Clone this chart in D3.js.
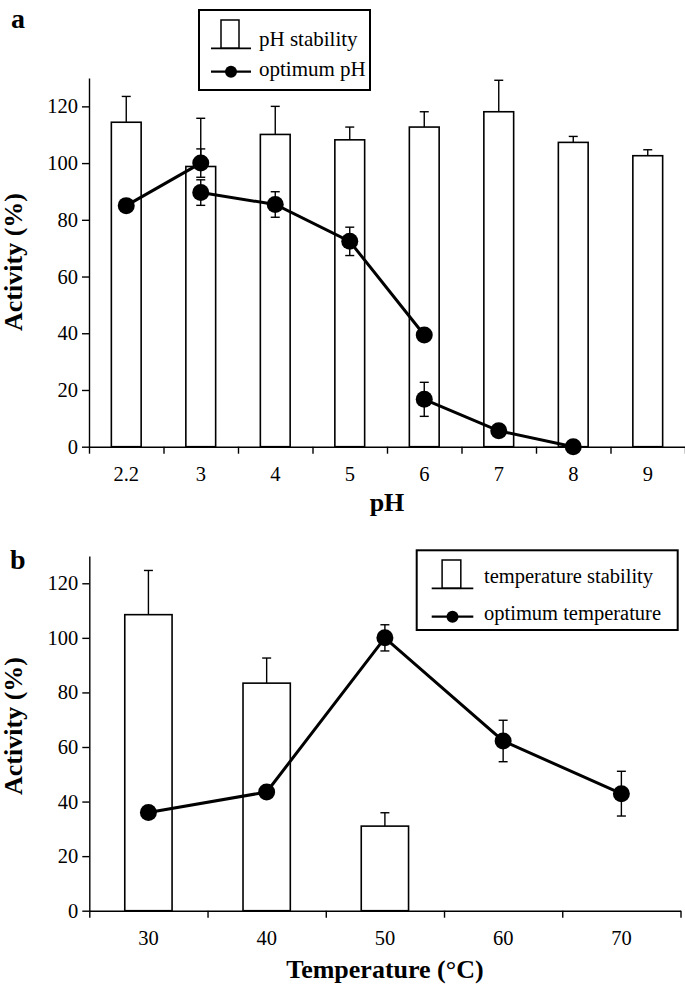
<!DOCTYPE html>
<html><head><meta charset="utf-8">
<script src="https://cdn.jsdelivr.net/npm/d3@7"></script>
</head>
<body style="margin:0">
<svg id="c" width="685" height="987"></svg>
<script>
// ---------- Data (panel a) ----------
const phCats = ["2.2","3","4","5","6","7","8","9"];
const phStability = [114.4, 98.8, 110.1, 108.2, 112.7, 118.1, 107.3, 102.6];
const phStabilityErr = [9.1, 17.0, 9.9, 4.5, 5.4, 11.1, 2.1, 2.1];
// optimum pH measured in three buffer systems (three separate line segments)
const optPhSeg1Cats = ["2.2","3"];
const optPhSeg1 = [85.0, 100.0];
const optPhSeg1Err = [0, 5.0];
const optPhSeg2Cats = ["3","4","5","6"];
const optPhSeg2 = [89.6, 85.4, 72.4, 39.4];
const optPhSeg2Err = [4.5, 4.5, 5.0, 0];
const optPhSeg3Cats = ["6","7","8"];
const optPhSeg3 = [16.7, 5.6, 0];
const optPhSeg3Err = [6.0, 0, 0];
const yTicks = [0, 20, 40, 60, 80, 100, 120];

// ---------- Data (panel b) ----------
const tempCats = ["30","40","50","60","70"];
const tempStabilityCats = ["30","40","50"];
const tempStability = [108.5, 83.4, 31.0];
const tempStabilityErr = [16.2, 9.2, 4.9];
const optTemp = [36.0, 43.5, 100.0, 62.2, 42.9];
const optTempErr = [0, 0, 4.8, 7.6, 8.2];

const svg = d3.select("#c");

function txt(sel) {
  return sel.style("font-family", "Liberation Serif").attr("fill", "#000");
}

function panel(cfg) {
  const g = svg.append("g");
  const x = d3.scaleBand().domain(cfg.cats).range([cfg.x0, cfg.x1])
    .paddingInner(0.6).paddingOuter(0.3);
  const y = d3.scaleLinear().domain([0, 130]).range([cfg.y0, cfg.yTop]);
  const xb = d3.scaleLinear().domain([0, cfg.cats.length]).range([cfg.x0, cfg.x1]);
  const cx = c => x(c) + x.bandwidth() / 2;

  // bars
  g.selectAll("rect.bar").data(cfg.barCats).join("rect")
    .attr("x", c => x(c)).attr("width", x.bandwidth())
    .attr("y", (c, i) => y(cfg.bars[i]))
    .attr("height", (c, i) => y(0) - y(cfg.bars[i]))
    .attr("fill", "#fff").attr("stroke", "#000").attr("stroke-width", 1.6);
  // bar error bars (upward only)
  cfg.barCats.forEach((c, i) => {
    const e = cfg.barErr[i]; if (!e) return;
    const xc = cx(c), yt = y(cfg.bars[i] + e);
    g.append("line").attr("x1", xc).attr("x2", xc).attr("y1", y(cfg.bars[i])).attr("y2", yt)
      .attr("stroke", "#000").attr("stroke-width", 1.4);
    g.append("line").attr("x1", xc - 4.5).attr("x2", xc + 4.5).attr("y1", yt).attr("y2", yt)
      .attr("stroke", "#000").attr("stroke-width", 1.4);
  });

  // axes
  const ya = d3.axisLeft(y).tickValues(yTicks).tickSize(7).tickSizeOuter(0).tickPadding(4);
  const yg = g.append("g").attr("transform", `translate(${cfg.x0},0)`).call(ya);
  yg.attr("font-family", null).attr("font-size", null);
  txt(yg.selectAll("text")).style("font-size", "20.5px");
  const xa = d3.axisBottom(xb).tickValues(d3.range(cfg.cats.length + 1)).tickSize(7)
    .tickSizeOuter(0).tickFormat("");
  g.append("g").attr("transform", `translate(0,${cfg.y0})`).call(xa).attr("font-family", null);
  g.selectAll(".domain, .tick line").attr("stroke", "#000").attr("stroke-width", 1.4);
  // x labels
  txt(g.selectAll("text.xl").data(cfg.cats).join("text"))
    .attr("x", c => cx(c)).attr("y", cfg.xLabelY).attr("text-anchor", "middle")
    .style("font-size", "20.5px").text(c => c);

  // lines
  cfg.lines.forEach(L => {
    const line = d3.line().x((d, i) => cx(L.cats[i])).y(d => y(d));
    g.append("path").datum(L.vals).attr("d", line).attr("fill", "none")
      .attr("stroke", "#000").attr("stroke-width", 3);
  });
  cfg.lines.forEach(L => {
    L.vals.forEach((v, i) => {
      const e = L.err[i]; if (!e) return;
      const xc = cx(L.cats[i]);
      g.append("line").attr("x1", xc).attr("x2", xc).attr("y1", y(v - e)).attr("y2", y(v + e))
        .attr("stroke", "#000").attr("stroke-width", 1.4);
      [v - e, v + e].forEach(t => g.append("line").attr("x1", xc - 4.5).attr("x2", xc + 4.5)
        .attr("y1", y(t)).attr("y2", y(t)).attr("stroke", "#000").attr("stroke-width", 1.4));
    });
  });
  cfg.lines.forEach(L => {
    L.vals.forEach((v, i) => {
      g.append("circle").attr("cx", cx(L.cats[i])).attr("cy", y(v)).attr("r", 8.5).attr("fill", "#000");
    });
  });

  // titles
  txt(g.append("text")).attr("x", (cfg.x0 + cfg.x1) / 2).attr("y", cfg.xTitleY).attr("text-anchor", "middle")
    .style("font-size", "26px").style("font-weight", "bold").text(cfg.xTitle);
  txt(g.append("text")).attr("transform", `translate(22,${cfg.yTitleC}) rotate(-90)`).attr("text-anchor", "middle")
    .style("font-size", "26px").style("font-weight", "bold").text("Activity (%)");
  txt(g.append("text")).attr("x", cfg.lab[0]).attr("y", cfg.lab[1]).style("font-size", "28px")
    .style("font-weight", "bold").text(cfg.label);

  // legend
  const L = cfg.legend;
  g.append("rect").attr("x", L.x).attr("y", L.y).attr("width", L.w).attr("height", L.h)
    .attr("fill", "#fff").attr("stroke", "#000").attr("stroke-width", 2);
  g.append("rect").attr("x", L.sx + L.sw * 0.25).attr("y", L.r1top).attr("width", L.sw * 0.45)
    .attr("height", L.r1base - L.r1top).attr("fill", "#fff").attr("stroke", "#000").attr("stroke-width", 1.5);
  g.append("line").attr("x1", L.sx).attr("x2", L.sx + L.sw).attr("y1", L.r1base).attr("y2", L.r1base)
    .attr("stroke", "#000").attr("stroke-width", 1.8);
  g.append("line").attr("x1", L.sx).attr("x2", L.sx + L.sw).attr("y1", L.r2y).attr("y2", L.r2y)
    .attr("stroke", "#000").attr("stroke-width", 2.2);
  g.append("circle").attr("cx", L.sx + L.sw / 2).attr("cy", L.r2y).attr("r", 6).attr("fill", "#000");
  txt(g.append("text")).attr("x", L.tx).attr("y", L.t1y).style("font-size", L.fs + "px").text(L.t1);
  txt(g.append("text")).attr("x", L.tx).attr("y", L.t2y).style("font-size", L.fs + "px").text(L.t2);
}

panel({
  cats: phCats, barCats: phCats, bars: phStability, barErr: phStabilityErr,
  x0: 89, x1: 685, y0: 446.7, yTop: 78,
  lines: [
    {cats: optPhSeg1Cats, vals: optPhSeg1, err: optPhSeg1Err},
    {cats: optPhSeg2Cats, vals: optPhSeg2, err: optPhSeg2Err},
    {cats: optPhSeg3Cats, vals: optPhSeg3, err: optPhSeg3Err}
  ],
  xLabelY: 481, xTitleY: 511, xTitle: "pH", yTitleC: 262, label: "a", lab: [11, 28],
  legend: {x: 199, y: 10, w: 171, h: 80, sx: 211, sw: 40, r1top: 20, r1base: 48.3, r2y: 71.7,
    tx: 259, t1y: 46, t2y: 76, fs: 21, t1: "pH stability", t2: "optimum pH"}
});

panel({
  cats: tempCats, barCats: tempStabilityCats, bars: tempStability, barErr: tempStabilityErr,
  x0: 89.3, x1: 680.5, y0: 910.7, yTop: 556,
  lines: [{cats: tempCats, vals: optTemp, err: optTempErr}],
  xLabelY: 945, xTitleY: 978, xTitle: "Temperature (°C)", yTitleC: 726, label: "b", lab: [10, 569],
  legend: {x: 416.7, y: 550.3, w: 261, h: 79.7, sx: 431.7, sw: 41.6, r1top: 560, r1base: 588.3, r2y: 616.7,
    tx: 484, t1y: 583, t2y: 620, fs: 20.5, t1: "temperature stability", t2: "optimum temperature"}
});
</script>
</body></html>
